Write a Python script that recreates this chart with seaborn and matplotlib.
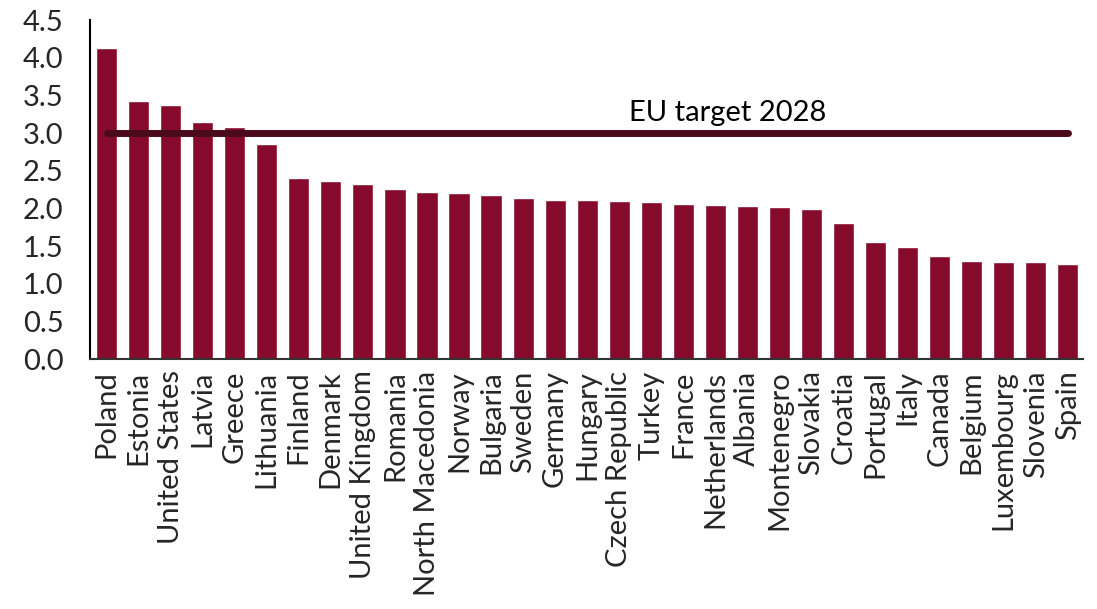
import matplotlib
matplotlib.use("Agg")
import matplotlib.pyplot as plt
import seaborn as sns
import pandas as pd

countries = [
    "Poland", "Estonia", "United States", "Latvia", "Greece", "Lithuania",
    "Finland", "Denmark", "United Kingdom", "Romania", "North Macedonia",
    "Norway", "Bulgaria", "Sweden", "Germany", "Hungary", "Czech Republic",
    "Turkey", "France", "Netherlands", "Albania", "Montenegro", "Slovakia",
    "Croatia", "Portugal", "Italy", "Canada", "Belgium", "Luxembourg",
    "Slovenia", "Spain",
]
spending = [
    4.13, 3.43, 3.38, 3.15, 3.08, 2.85,
    2.41, 2.37, 2.33, 2.26, 2.22,
    2.20, 2.18, 2.14, 2.12, 2.11, 2.10,
    2.09, 2.06, 2.05, 2.03, 2.02, 2.00,
    1.81, 1.55, 1.49, 1.37, 1.30, 1.29,
    1.29, 1.27,
]
target_value = 3.0
target_label = "EU target 2028"
yticks = [0.0, 0.5, 1.0, 1.5, 2.0, 2.5, 3.0, 3.5, 4.0, 4.5]

df = pd.DataFrame({"country": countries, "spending": spending})
df["target"] = target_value

sns.set_theme(style="white")
plt.rcParams["font.family"] = ["Lato", "DejaVu Sans"]

fig, ax = plt.subplots(figsize=(10.97, 6.09), dpi=100)
fig.subplots_adjust(left=0.082, right=0.987, top=0.967, bottom=0.41)

sns.barplot(data=df, x="country", y="spending", color="#850A2C",
            saturation=1, width=0.66, ax=ax)
ax.plot(df["country"], df["target"], color="#4A0A1C", linewidth=5,
        solid_capstyle="round", zorder=3)
ax.text(19.4, 3.27, target_label, ha="center", va="center",
        fontsize=21, color="black")

ax.set_xlim(-0.52, 30.47)
ax.set_ylim(0, 4.5)
ax.set_yticks(yticks)
ax.set_yticklabels([f"{v:.1f}" for v in yticks], fontsize=21)
ax.set_xticks(range(len(countries)))
ax.set_xticklabels(countries, rotation=90, fontsize=21)
ax.set_xlabel("")
ax.set_ylabel("")
ax.tick_params(axis="y", length=0, pad=19)
ax.tick_params(axis="x", length=0, pad=8)

for side in ["top", "right"]:
    ax.spines[side].set_visible(False)
ax.spines["left"].set_color("black")
ax.spines["left"].set_linewidth(1.5)
ax.spines["bottom"].set_color("#333333")
ax.spines["bottom"].set_linewidth(1.5)

fig.savefig("out.png", dpi=100, facecolor="white")
